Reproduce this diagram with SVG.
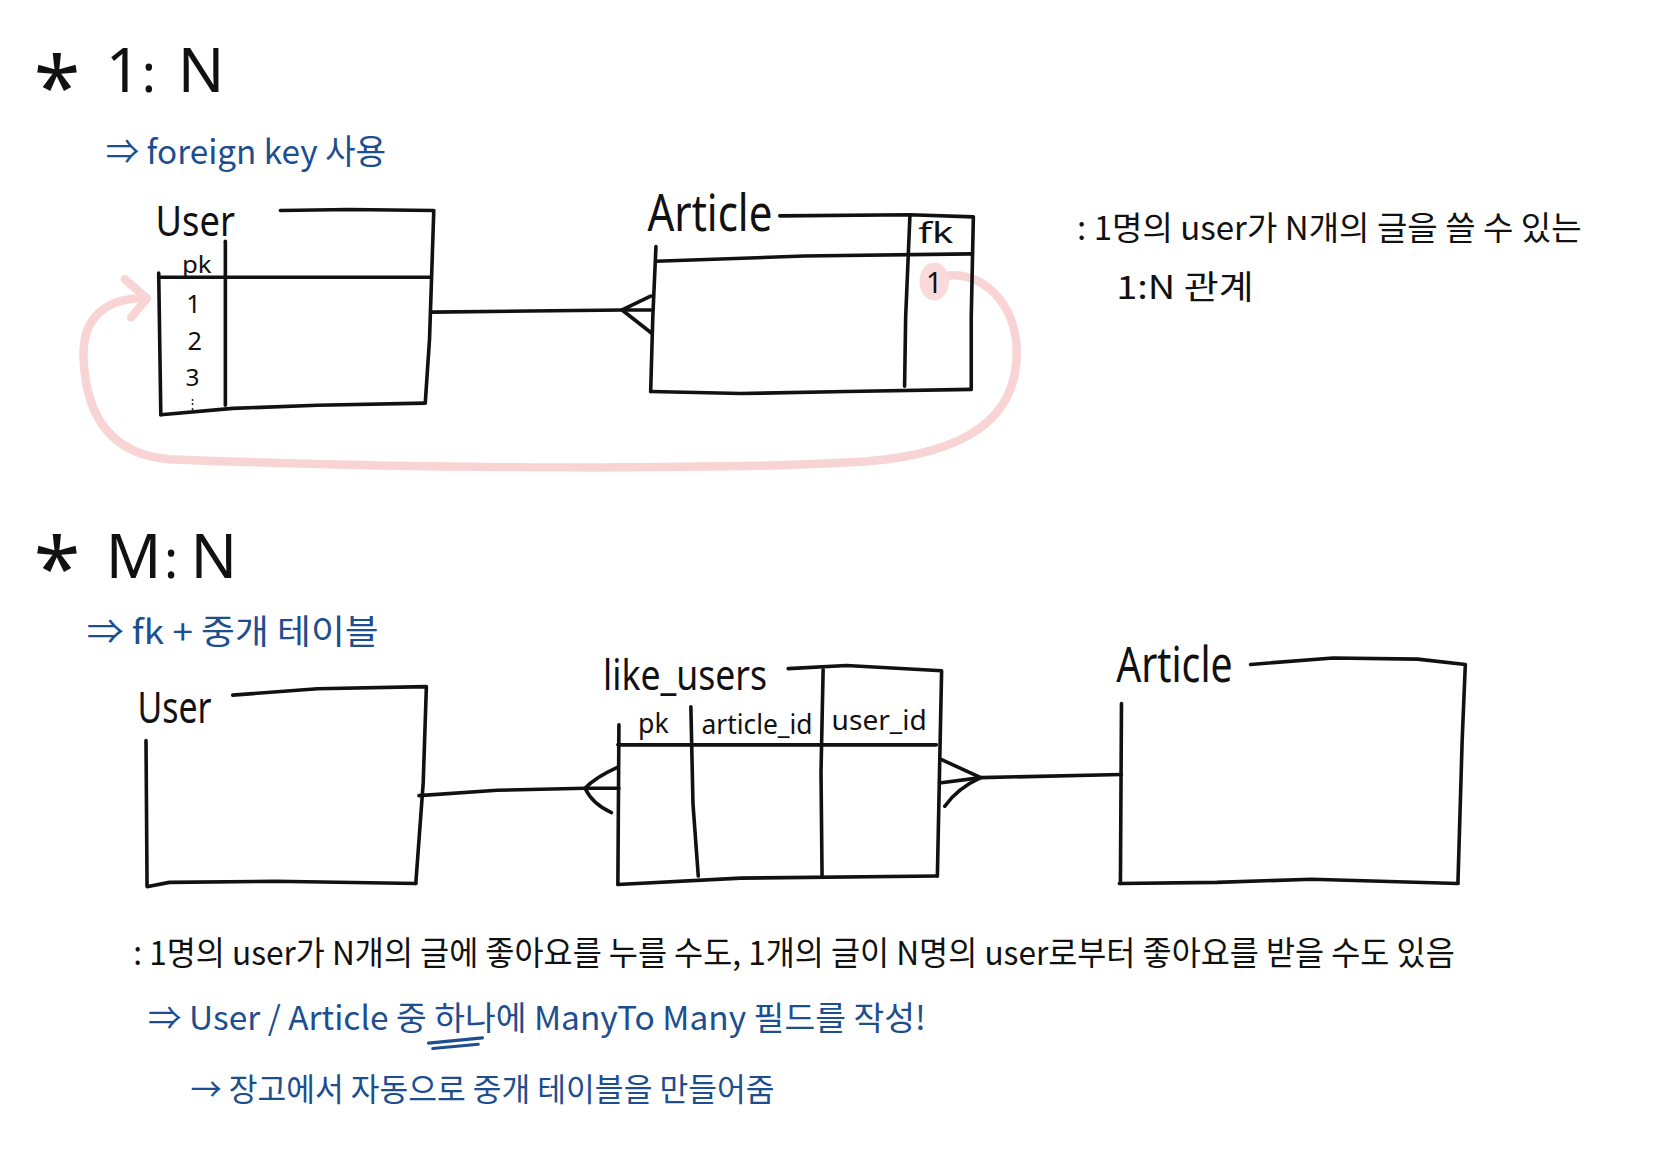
<svg xmlns="http://www.w3.org/2000/svg" width="1659" height="1171" viewBox="0 0 1659 1171">
<style>
.ln{fill:none;stroke:#111;stroke-width:3.4;stroke-linecap:round;stroke-linejoin:round}
.t{font-family:"Noto Sans","Noto Sans CJK KR",sans-serif;fill:#111}
.k{font-family:"Noto Sans CJK KR","Noto Sans",sans-serif;fill:#111}
.b{font-family:"Noto Sans CJK KR","Noto Sans",sans-serif;fill:#1d4e8f}
.pink{fill:none;stroke:#f9d4d4;stroke-width:8;stroke-linecap:round;stroke-linejoin:round}
</style>
<rect width="1659" height="1171" fill="#fff"/>
<g transform="scale(1.058)">
<g id="title-1n">
<text class="t" x="32" y="111" font-size="80">*</text>
<text class="t" x="100" y="87" font-size="58">1</text>
<text class="t" x="134" y="87" font-size="50">:</text>
<text class="t" x="168" y="87" font-size="58">N</text>
</g>
<g id="note-fk">
<text class="b" x="100" y="155" font-size="32" textLength="265" lengthAdjust="spacingAndGlyphs">⇒ foreign key 사용</text>
</g>

<g id="connectors">
<path class="pink" d="M888,262 C925,252 962,285 961,335 C960,395 915,428 820,436 C700,444 400,444 160,434 C110,430 82,400 79,340 C77,300 100,282 136,282"/>
<path class="pink" d="M118,264 L139,282 L124,300"/>
<path class="ln" d="M408,295 L500,294 L590,293 L615,293"/>
<path class="ln" d="M615,280 L588,293 L616,315"/>
<path class="ln" d="M396,752 L470,747 L553,745 L585,745"/>
<path class="ln" d="M584,725 Q562,735 553,745 Q560,760 578,768"/>
<path class="ln" d="M888,740 L927,735 L1060,732"/>
<path class="ln" d="M890,718 L927,735 Q905,745 893,762"/>
</g>

<g id="user-1n">
<text class="t" x="147" y="223" font-size="40" textLength="75" lengthAdjust="spacingAndGlyphs">User</text>
<path class="ln" d="M265,199 L330,198 L410,199 L408,260 L406,320 L402,380"/>
<path class="ln" d="M152,392 L220,386 L300,383 L402,381"/>
<path class="ln" d="M150,258 L152,392"/>
<path class="ln" d="M150,262 L407,262"/>
<path class="ln" d="M213,228 L213,383"/>
<text class="t" x="172" y="258" font-size="22" textLength="28" lengthAdjust="spacingAndGlyphs">pk</text>
<text class="t" x="183" y="296" font-size="24" text-anchor="middle">1</text>
<text class="t" x="184" y="331" font-size="24" text-anchor="middle">2</text>
<text class="t" x="182" y="365" font-size="23" text-anchor="middle">3</text>
<text class="t" x="182" y="386" font-size="12" text-anchor="middle">⋮</text>
</g>

<g id="article-1n">
<text class="t" x="612" y="218" font-size="48" textLength="118" lengthAdjust="spacingAndGlyphs">Article</text>
<path class="ln" d="M737,204 L860,203 L920,205 L918,300 L918,368"/>
<path class="ln" d="M615,370 L700,372 L800,370 L918,368"/>
<path class="ln" d="M620,233 L617,300 L615,370"/>
<path class="ln" d="M620,247 L760,242 L918,240"/>
<path class="ln" d="M860,205 L856,300 L855,365"/>
<text class="t" x="868" y="230" font-size="28" textLength="33" lengthAdjust="spacingAndGlyphs">fk</text>
<ellipse cx="883" cy="266" rx="14" ry="18" fill="#fadada"/>
<text class="t" x="883" y="277" font-size="27" text-anchor="middle">1</text>
</g>

<g id="note-1n">
<text class="k" x="1018" y="227" font-size="31" textLength="477" lengthAdjust="spacingAndGlyphs">: 1명의 user가 N개의 글을 쓸 수 있는</text>
<text class="k" x="1055" y="283" font-size="31" textLength="130" lengthAdjust="spacingAndGlyphs">1:N 관계</text>
</g>

<g id="title-mn">
<text class="t" x="32" y="565" font-size="80">*</text>
<text class="t" x="100" y="546" font-size="58">M</text>
<text class="t" x="155" y="546" font-size="50">:</text>
<text class="t" x="180" y="546" font-size="58">N</text>
</g>
<g id="note-mn">
<text class="b" x="82" y="609" font-size="32" textLength="276" lengthAdjust="spacingAndGlyphs">⇒ fk + 중개 테이블</text>
</g>

<g id="user-mn">
<text class="t" x="130" y="683" font-size="42" textLength="70" lengthAdjust="spacingAndGlyphs">User</text>
<path class="ln" d="M220,657 L300,651 L403,649 L400,740 L393,835"/>
<path class="ln" d="M140,838 L160,834 L260,833 L393,835"/>
<path class="ln" d="M138,700 L139,838"/>
</g>

<g id="like-users">
<text class="t" x="570" y="652" font-size="40" textLength="155" lengthAdjust="spacingAndGlyphs">like_users</text>
<path class="ln" d="M745,632 L800,629 L890,634 L888,730 L886,828"/>
<path class="ln" d="M584,836 L700,830 L886,828"/>
<path class="ln" d="M585,685 L584,836"/>
<path class="ln" d="M584,704 L885,704"/>
<path class="ln" d="M653,668 L655,760 L660,828"/>
<path class="ln" d="M778,633 L776,730 L777,828"/>
<text class="t" x="603" y="693" font-size="26" textLength="29" lengthAdjust="spacingAndGlyphs">pk</text>
<text class="t" x="663" y="694" font-size="25" textLength="105" lengthAdjust="spacingAndGlyphs">article_id</text>
<text class="t" x="786" y="690" font-size="26" textLength="90" lengthAdjust="spacingAndGlyphs">user_id</text>
</g>

<g id="article-mn">
<text class="t" x="1055" y="645" font-size="46" textLength="110" lengthAdjust="spacingAndGlyphs">Article</text>
<path class="ln" d="M1182,628 L1260,622 L1340,623 L1385,628 L1382,700 L1378,835"/>
<path class="ln" d="M1058,835 L1150,834 L1240,831 L1378,835"/>
<path class="ln" d="M1060,665 L1059,835"/>
</g>

<g id="note-bottom">
<text class="k" x="126" y="912" font-size="31" textLength="1249" lengthAdjust="spacingAndGlyphs">: 1명의 user가  N개의 글에 좋아요를 누를 수도,  1개의 글이 N명의 user로부터 좋아요를 받을 수도 있음</text>
<text class="b" x="140" y="974" font-size="31" textLength="735" lengthAdjust="spacingAndGlyphs">⇒ User / Article 중 하나에  ManyTo Many 필드를 작성!</text>
<path d="M405,986 L456,981 M409,991 L452,987" fill="none" stroke="#1d4e8f" stroke-width="3" stroke-linecap="round"/>
<text class="b" x="180" y="1041" font-size="30" textLength="552" lengthAdjust="spacingAndGlyphs">→ 장고에서  자동으로  중개  테이블을  만들어줌</text>
</g>
</g>
</svg>
